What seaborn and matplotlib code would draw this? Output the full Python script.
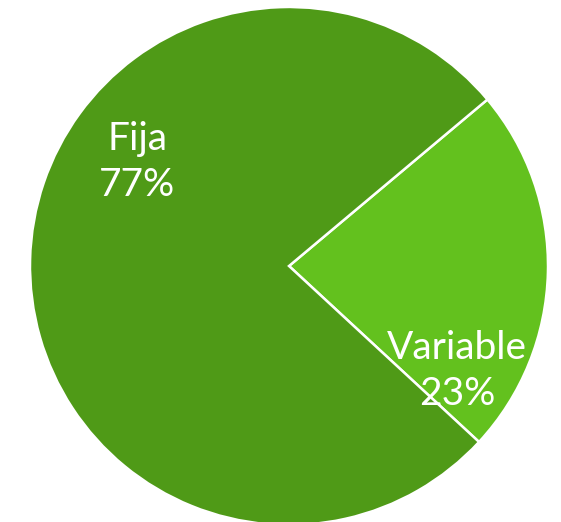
import matplotlib
matplotlib.use("Agg")
import matplotlib.pyplot as plt
import seaborn as sns

categories = ["Variable", "Fija"]
values = [23, 77]
colors = ["#63c11e", "#4f9a17"]

sns.set_style("white")
plt.rcParams['font.family'] = ['Lato', 'DejaVu Sans']

fig = plt.figure(figsize=(5.61, 5.22), dpi=100)
ax = fig.add_axes([0, 0, 1, 1])
ax.pie(values, colors=colors, startangle=-42.8, counterclock=True,
       radius=1.0, center=(0, 0),
       wedgeprops=dict(edgecolor="white", linewidth=1.8))
ax.set_xlim(-289 / 259, (561 - 289) / 259)
ax.set_ylim((266 - 522) / 259, 266 / 259)
ax.set_aspect('auto')
ax.axis('off')

label_pos = {"Variable": ((457 - 289) / 259, (266 - 371) / 259),
             "Fija": ((137 - 289) / 259, (266 - 162) / 259)}
for cat, val in zip(categories, values):
    x, y = label_pos[cat]
    ax.text(x, y, f"{cat}\n{val}%", color="white", ha="center", va="center",
            fontsize=28, fontweight="normal", linespacing=1.35)

fig.savefig("out.png", dpi=100)
